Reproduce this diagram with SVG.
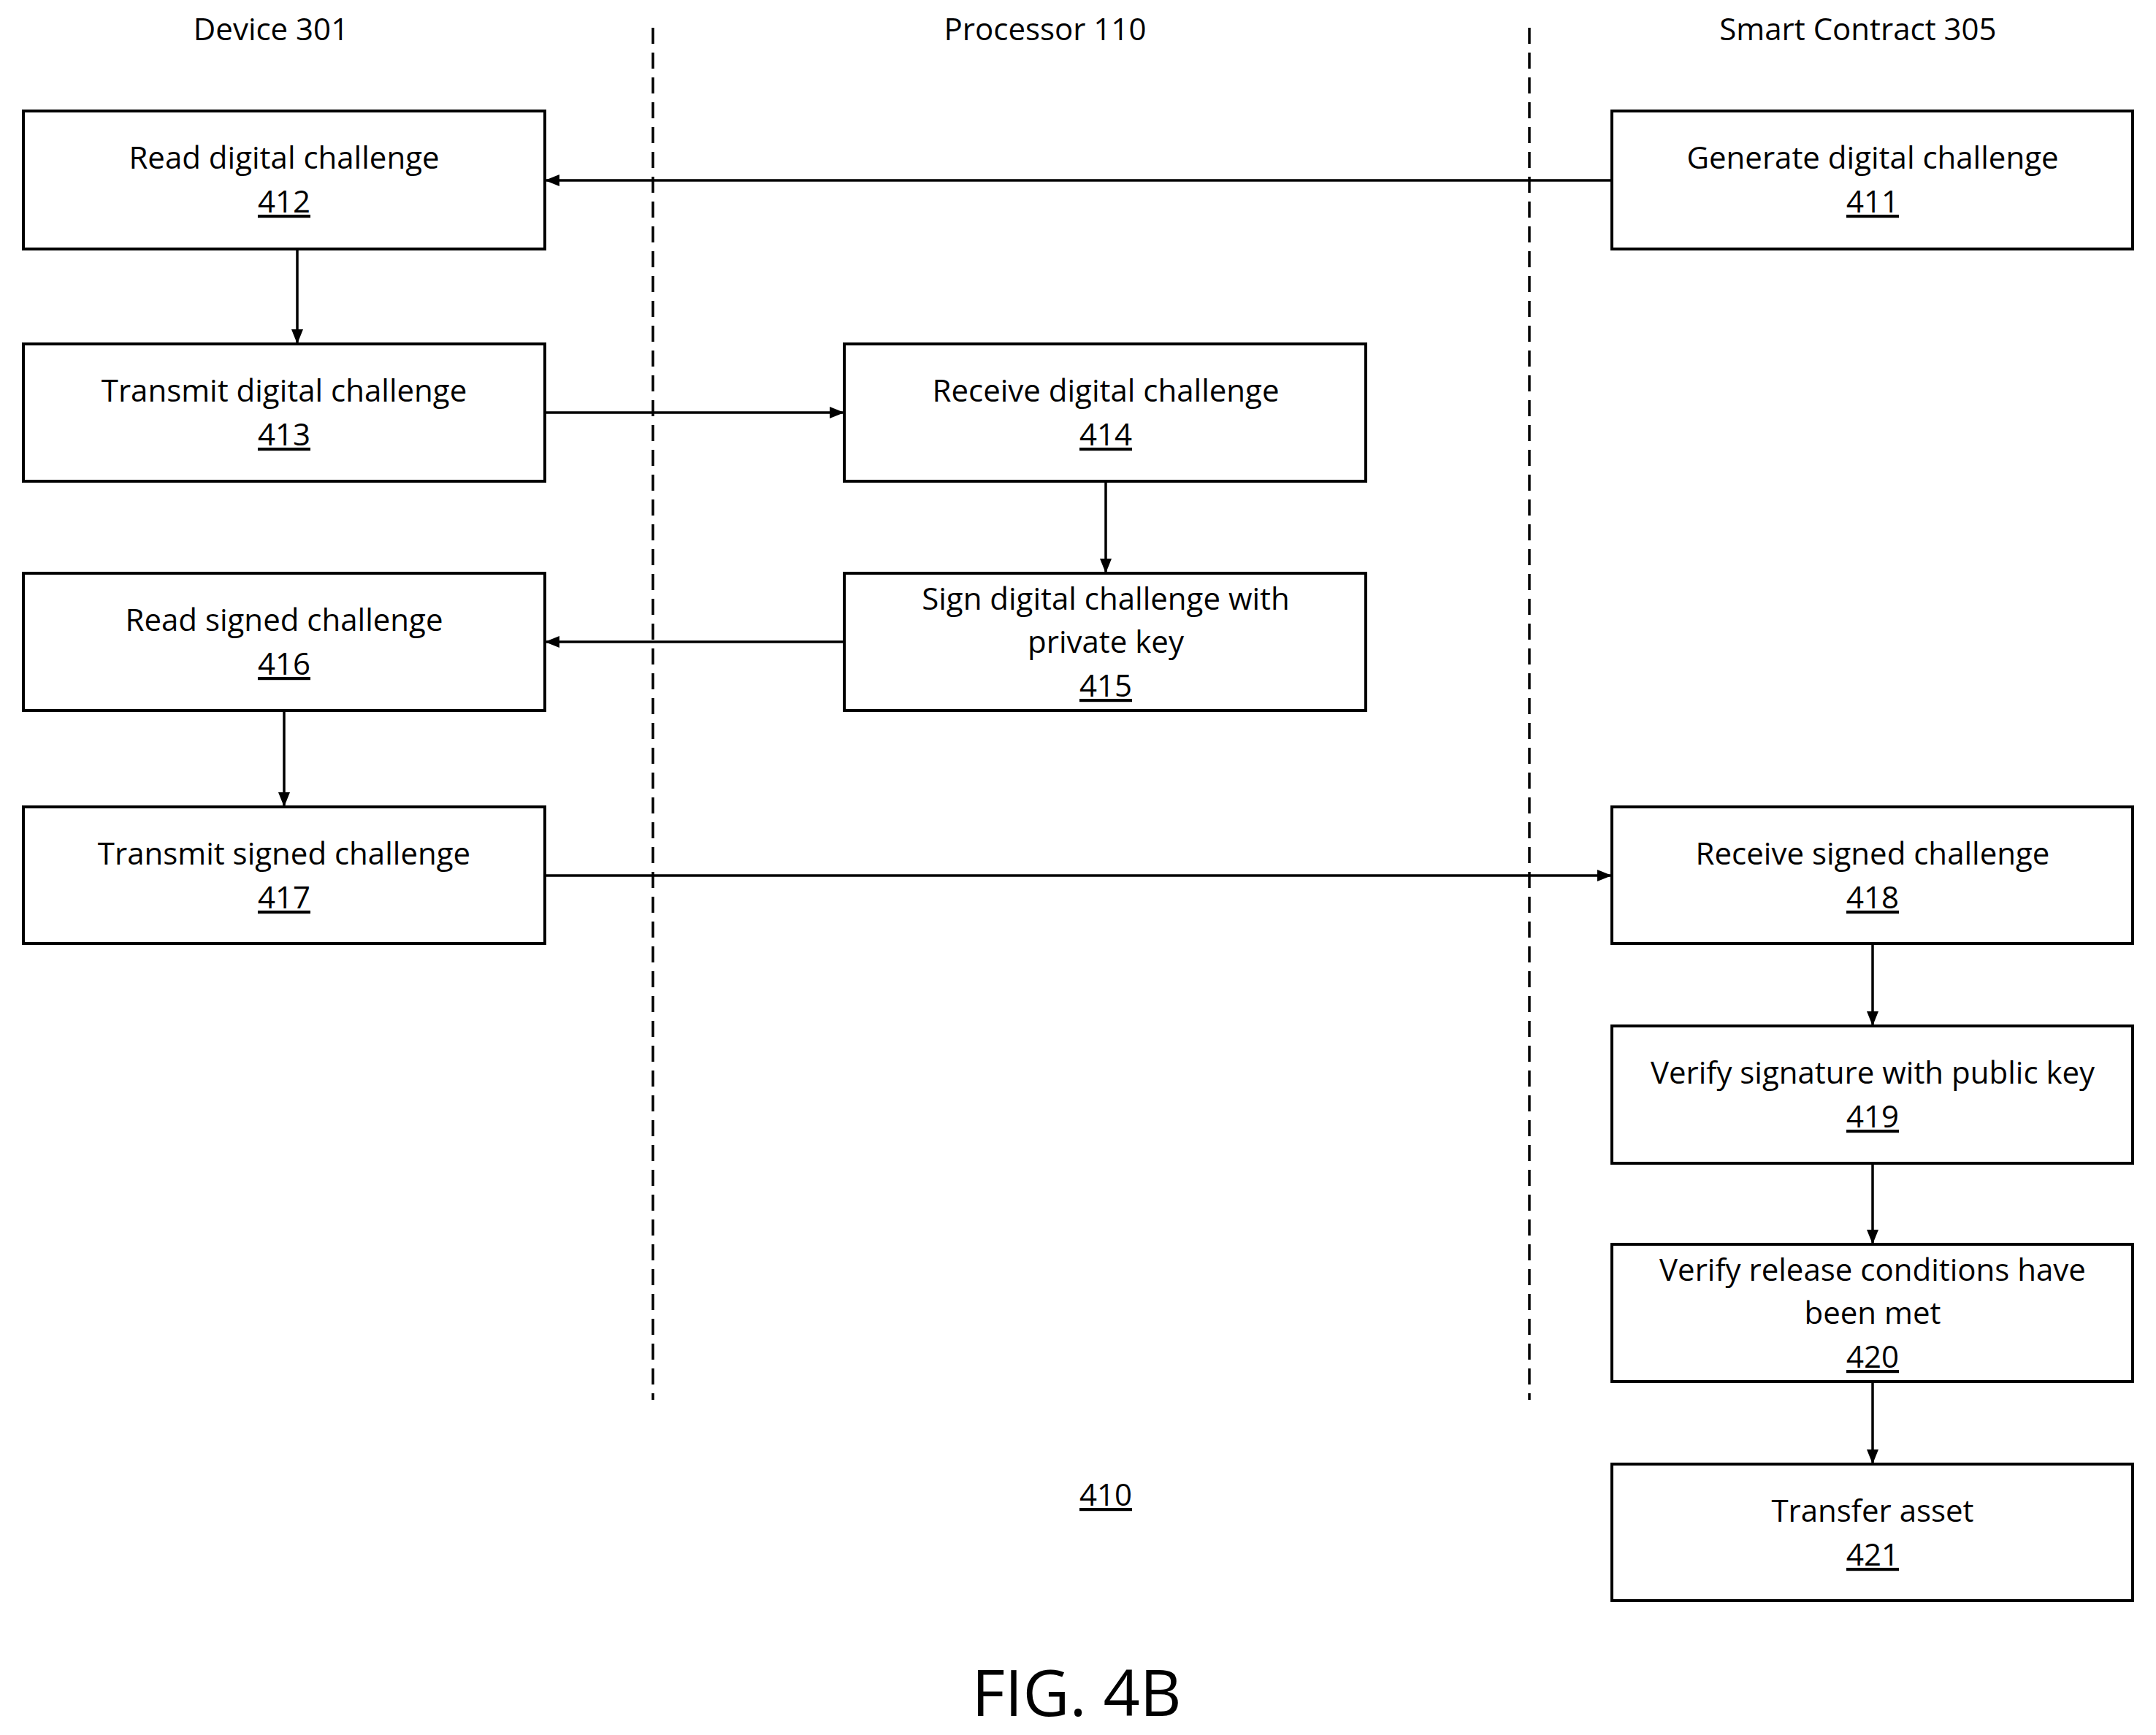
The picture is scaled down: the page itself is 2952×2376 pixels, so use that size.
<svg xmlns="http://www.w3.org/2000/svg" width="2952" height="2376" viewBox="0 0 2952 2376">
<style>
rect.b{fill:#fff;stroke:#000;stroke-width:4}
text{font-family:"Open Sans","Liberation Sans",sans-serif;font-size:42px;fill:#000;text-anchor:middle}
.n{text-decoration:underline}
.c line{stroke:#000;stroke-width:3.5}
.d{stroke:#000;stroke-width:3.5;stroke-dasharray:22 12}
</style>
<defs><marker id="a" markerWidth="8" markerHeight="8" refX="7" refY="4" orient="auto" markerUnits="userSpaceOnUse" viewBox="0 0 8 8"><path d="M0,0L8,4L0,8z" fill="#000"/></marker>
<marker id="h" markerWidth="20" markerHeight="16" refX="20" refY="8" orient="auto" markerUnits="userSpaceOnUse"><path d="M0,0L20,8L0,16z" fill="#000"/></marker></defs>
<rect width="2952" height="2376" fill="#fff"/>
<line class="d" x1="894" y1="38" x2="894" y2="1917"/>
<line class="d" x1="2094" y1="38" x2="2094" y2="1917"/>
<text x="371" y="55">Device 301</text>
<text x="1431" y="55">Processor 110</text>
<text x="2544" y="55">Smart Contract 305</text>
<g class="c">
<line x1="2207" y1="247" x2="746" y2="247" marker-end="url(#h)"/>
<line x1="407" y1="341" x2="407" y2="471" marker-end="url(#h)"/>
<line x1="746" y1="565" x2="1156" y2="565" marker-end="url(#h)"/>
<line x1="1514" y1="659" x2="1514" y2="785" marker-end="url(#h)"/>
<line x1="1156" y1="879" x2="746" y2="879" marker-end="url(#h)"/>
<line x1="389" y1="973" x2="389" y2="1105" marker-end="url(#h)"/>
<line x1="746" y1="1199" x2="2207" y2="1199" marker-end="url(#h)"/>
<line x1="2564" y1="1292" x2="2564" y2="1405" marker-end="url(#h)"/>
<line x1="2564" y1="1593" x2="2564" y2="1704" marker-end="url(#h)"/>
<line x1="2564" y1="1892" x2="2564" y2="2005" marker-end="url(#h)"/>
</g>
<g id="n412"><rect class="b" x="32" y="152" width="714" height="189"/><text x="389" y="231">Read digital challenge</text><text class="n" x="389" y="291">412</text></g>
<g id="n411"><rect class="b" x="2207" y="152" width="713" height="189"/><text x="2564" y="231">Generate digital challenge</text><text class="n" x="2564" y="291">411</text></g>
<g id="n413"><rect class="b" x="32" y="471" width="714" height="188"/><text x="389" y="550">Transmit digital challenge</text><text class="n" x="389" y="610">413</text></g>
<g id="n414"><rect class="b" x="1156" y="471" width="714" height="188"/><text x="1514" y="550">Receive digital challenge</text><text class="n" x="1514" y="610">414</text></g>
<g id="n416"><rect class="b" x="32" y="785" width="714" height="188"/><text x="389" y="864">Read signed challenge</text><text class="n" x="389" y="924">416</text></g>
<g id="n415"><rect class="b" x="1156" y="785" width="714" height="188"/><text x="1514" y="835">Sign digital challenge with</text><text x="1514" y="894">private key</text><text class="n" x="1514" y="954">415</text></g>
<g id="n417"><rect class="b" x="32" y="1105" width="714" height="187"/><text x="389" y="1184">Transmit signed challenge</text><text class="n" x="389" y="1244">417</text></g>
<g id="n418"><rect class="b" x="2207" y="1105" width="713" height="187"/><text x="2564" y="1184">Receive signed challenge</text><text class="n" x="2564" y="1244">418</text></g>
<g id="n419"><rect class="b" x="2207" y="1405" width="713" height="188"/><text x="2564" y="1484">Verify signature with public key</text><text class="n" x="2564" y="1544">419</text></g>
<g id="n420"><rect class="b" x="2207" y="1704" width="713" height="188"/><text x="2564" y="1754">Verify release conditions have</text><text x="2564" y="1813">been met</text><text class="n" x="2564" y="1873">420</text></g>
<g id="n421"><rect class="b" x="2207" y="2005" width="713" height="187"/><text x="2564" y="2084">Transfer asset</text><text class="n" x="2564" y="2144">421</text></g>
<text class="n" x="1514" y="2062">410</text>
<text x="1474" y="2350" style="font-size:88px">FIG. 4B</text>
</svg>
